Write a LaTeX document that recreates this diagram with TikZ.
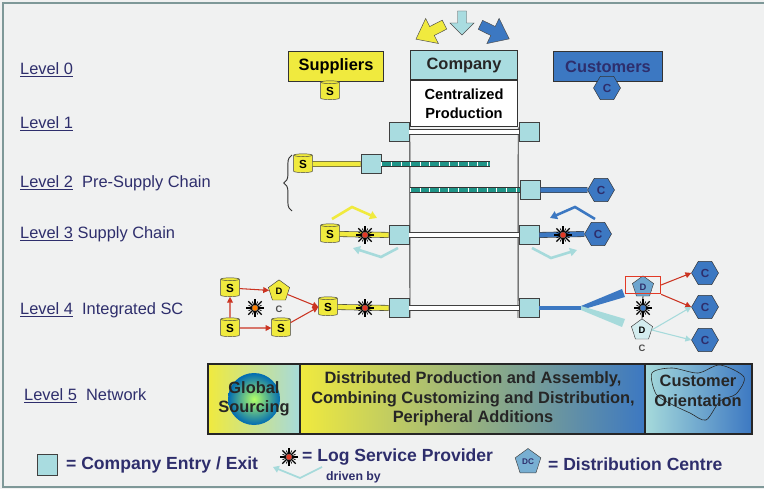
\documentclass[tikz,border=0pt]{standalone}
\usepackage{fontspec}
\setmainfont{Liberation Sans}
\usetikzlibrary{shapes.geometric,arrows.meta,decorations.pathreplacing,positioning}

\definecolor{bgcol}{HTML}{F0F1F1}
\definecolor{framecol}{HTML}{7E9898}
\definecolor{entrycol}{HTML}{A9DCE0}
\definecolor{supcol}{HTML}{F0EA3E}
\definecolor{custcol}{HTML}{3C78C2}
\definecolor{tealcol}{HTML}{1F9588}
\definecolor{navy}{HTML}{2E2E6C}
\definecolor{lightcyan}{HTML}{A6DADB}
\definecolor{lspred}{HTML}{E23A26}

\begin{document}
\begin{tikzpicture}[x=0.03cm,y=-0.03cm,
    lvl/.style={anchor=west,text=navy,font=\fontsize{14}{16}\selectfont},
    entry/.style={draw=black!75,fill=entrycol,line width=0.7pt,minimum width=17pt,minimum height=16pt,inner sep=0pt},
    scyl/.style={cylinder,shape border rotate=90,aspect=0.35,draw=black!75,fill=supcol,minimum width=16pt,minimum height=16pt,inner sep=0pt,font=\bfseries\normalsize},
    chex/.style={regular polygon,regular polygon sides=6,draw=black!80,fill=custcol,minimum size=23pt,inner sep=0pt,font=\bfseries\normalsize,text=navy},
    dpent/.style={regular polygon,regular polygon sides=5,draw=black!75,minimum size=19pt,inner sep=0pt,font=\bfseries\footnotesize},
    ybar/.style={draw=black!75,line width=0.5pt,double=supcol,double distance=4pt},
    bbar/.style={draw=black!75,line width=0.5pt,double=custcol,double distance=4pt},
    wbar/.style={draw=black!75,line width=0.6pt,double=white,double distance=4pt},
    tbar/.style={draw=black!80,line width=0.5pt,double=tealcol,double distance=4pt},
    ticks/.style={white,line width=3pt,dash pattern=on 0.7pt off 7.5pt},
    redarr/.style={lspred!90!black,line width=0.9pt,-{Triangle[length=5pt,width=5pt]}},
    cyanarr/.style={lightcyan,line width=0.9pt,-{Triangle[length=5pt,width=5pt]}},
    chev/.style={line width=2.2pt,-{Triangle[length=6pt,width=7pt]}},
    pics/lsp/.style={code={
      \foreach \a in {0,45,...,315} \draw[line width=1.1pt] (0,0) -- (\a:8pt);
      \foreach \a in {22.5,67.5,...,337.5} \draw[line width=0.6pt] (0,0) -- (\a:6pt);
      \fill[#1,draw=black!60,line width=0.3pt] (0,0) circle (2.6pt);}},
    topbox/.style={draw=black!80,line width=0.8pt,minimum height=25.5pt,inner sep=0pt,font=\bfseries\fontsize{14}{16}\selectfont},
    boxtxt/.style={font=\bfseries\fontsize{14}{16.5}\selectfont},
    legtxt/.style={anchor=west,text=navy,font=\bfseries\fontsize{15}{17}\selectfont}]

\useasboundingbox (0,0) rectangle (764,489);
\fill[bgcol] (0,0) rectangle (764,489);
\draw[framecol,line width=2.5pt] (764,3) -- (3,3) -- (3,487) -- (764,487);

% levels
\node[lvl] (l0) at (16,70) {\underline{Level 0}};
\node[lvl] (l1) at (16,124) {\underline{Level 1}};
\node[lvl] (l2) at (16,183) {\underline{Level 2}\ \ Pre-Supply Chain};
\node[lvl] (l3) at (16,234) {\underline{Level 3} Supply Chain};
\node[lvl] (l4) at (16,310) {\underline{Level 4}\ \ Integrated SC};
\node[lvl] (l5) at (20,396) {\underline{Level 5}\ \ Network};

% top arrows
\draw[black!70,fill=supcol,shift={(432,31)},rotate=207] (-14,-5) -- (0,-5) -- (0,-14) -- (18,0) -- (0,14) -- (0,5) -- (-14,5) -- cycle;
\draw[black!70,fill=custcol,shift={(493,31)},rotate=-26] (-14,-5) -- (0,-5) -- (0,-14) -- (18,0) -- (0,14) -- (0,5) -- (-14,5) -- cycle;
\draw[black!70,fill=entrycol,shift={(462,23)},rotate=-90] (-12,-4.5) -- (0,-4.5) -- (0,-12) -- (12,0) -- (0,12) -- (0,4.5) -- (-12,4.5) -- cycle;

% level 0
\node[topbox,fill=supcol,minimum width=81.6pt] (sup) at (336,66.5) {Suppliers};
\node[topbox,fill=entrycol,minimum width=91.8pt,text=black!85] (comp) at (464,65) {Company};
\node[topbox,fill=custcol,minimum width=92.6pt,text=navy] (cust) at (608,66.5) {Customers};
\node[draw=black!80,line width=0.8pt,fill=white,minimum width=91.8pt,minimum height=40pt,align=center,font=\bfseries\fontsize{12.5}{16}\selectfont] (cprod) at (464,103.5) {Centralized\\Production};
\node[scyl] (s0) at (330,91) {S};
\node[chex] (c0) at (607,88) {C};
\coordinate (colL) at (410,318);
\coordinate (colR) at (518,318);
\draw[black!80,line width=0.8pt] (cprod.south west) -- (colL);
\draw[black!80,line width=0.8pt] (cprod.south east) -- (colR);

% level 1
\node[entry] (e1l) at (399,132) {};
\node[entry] (e1r) at (529,132) {};
\draw[wbar] (e1l.east) -- (e1r.west);

% level 2
\node[scyl] (s2) at (303,164) {S};
\node[entry] (e2l) at (371,164) {};
\coordinate (t2a) at (490,164);
\draw[ybar] (s2.east) -- (e2l.west);
\draw[tbar] (e2l.east) -- (t2a);
\draw[ticks] (e2l.east) -- (t2a);
\node[entry] (e2r) at (530,190) {};
\node[chex] (c2) at (601,190) {C};
\coordinate (t2b) at (410,190);
\draw[tbar] (t2b) -- (e2r.west);
\draw[ticks] (t2b) -- (e2r.west);
\draw[bbar] (e2r.east) -- (c2.west);
\draw[decorate,decoration={brace,amplitude=7pt},line width=0.8pt,black!80] (292,211) -- (292,155);

% level 3
\node[scyl] (s3) at (330,234) {S};
\node[entry] (e3l) at (399,235) {};
\node[entry] (e3r) at (529,235) {};
\node[chex] (c3) at (598,234) {C};
\draw[ybar] (s3.east) -- (e3l.west);
\draw[wbar] (e3l.east) -- (e3r.west);
\draw[bbar] (e3r.east) -- (c3.west);
\pic at (365,235) {lsp=lspred};
\pic at (563,235) {lsp=lspred};
\draw[chev,supcol] (332,219) -- (352,207) -- (377,218);
\draw[chev,lightcyan] (398,248) -- (381,257) -- (353,248);
\draw[chev,custcol] (595,219) -- (575,207) -- (550,218);
\draw[chev,lightcyan] (532,248) -- (551,258) -- (577,250);

% level 4, left side
\node[scyl] (s4a) at (230,288) {S};
\node[scyl] (s4b) at (230,328) {S};
\node[scyl] (s4c) at (281,328) {S};
\node[dpent,fill=supcol] (d4) at (279,291) {D};
\node[font=\bfseries\footnotesize,text=black!70] (d4c) at (279,309) {C};
\pic at (255,308) {lsp=orange};
\draw[redarr] (s4a) -- (d4);
\draw[redarr] (s4b) -- (s4a);
\draw[redarr] (s4b) -- (s4c);
\node[scyl] (s4) at (328,307) {S};
\draw[redarr] (d4) -- (s4.west);
\draw[redarr] (s4c) -- (s4.west);
\node[entry] (e4l) at (399,308) {};
\node[entry] (e4r) at (529,308) {};
\draw[ybar] (s4.east) -- (e4l.west);
\draw[wbar] (e4l.east) -- (e4r.west);
\pic at (365,308) {lsp=lspred};

% level 4, right side
\coordinate (split) at (583,308);
\draw[custcol,line width=3.5pt] (e4r.east) -- (split);
\fill[custcol] (581,306) -- (622,289) -- (625,297) -- (581,310) -- cycle;
\fill[lightcyan] (581,306) -- (625,319) -- (622,327) -- (581,310) -- cycle;
\node[dpent,fill=custcol!55!entrycol,text=navy] (dc1) at (643,287) {D};
\node[dpent,fill=entrycol!50!white] (dc2) at (642,330) {D};
\draw[black!80,line width=0.8pt] (dc1.south) -- (dc2.north);
\pic at (643,308) {lsp=custcol};
\node[draw=lspred,line width=0.9pt,minimum width=30pt,minimum height=15pt,inner sep=0pt] (dcbox) at (643,285) {};
\node[font=\bfseries\footnotesize,text=black!70] (dc2c) at (642,348) {C};
\node[chex] (c4a) at (705,273) {C};
\node[chex] (c4b) at (705,307) {C};
\node[chex] (c4c) at (705,340) {C};
\draw[redarr] (dcbox.east) -- (c4a.west);
\draw[redarr] (dcbox.south east) -- (c4b.west);
\draw[cyanarr] (dc2.east) -- (c4b.west);
\draw[cyanarr] (dc2.east) -- (c4c.west);

% level 5 band
\shade[left color=supcol,right color=lightcyan] (208,364) rectangle (300,434);
\shade[left color=supcol,middle color=supcol!35!lightcyan,right color=custcol] (300,364) rectangle (645,434);
\shade[left color=lightcyan,right color=custcol] (645,364) rectangle (752,434);
\shade[inner color=yellow!50!green!60!white,outer color=blue!40!cyan!70!black] (254,399) circle (26);
\draw[black!85,line width=0.5pt] plot[smooth cycle] coordinates {(652,373) (672,368) (698,373) (720,365) (744,377) (736,394) (720,401) (706,420) (690,413) (671,404) (656,394)};
\draw[black!85,line width=1pt] (208,364) rectangle (752,434);
\draw[black!85,line width=1pt] (300,364) -- (300,434);
\draw[black!85,line width=1pt] (645,364) -- (645,434);
\node[boxtxt,align=center,text=black!85] (glob) at (254,399) {Global\\Sourcing};
\node[boxtxt,align=center,text=black!85] (distp) at (473,399) {Distributed Production and Assembly,\\Combining Customizing and Distribution,\\Peripheral Additions};
\node[boxtxt,align=center,text=black!85] (custo) at (698,391) {Customer\\Orientation};

% legend
\node[entry,minimum height=18pt] (lgbox) at (47,465) {};
\node[legtxt] (lgent) at (62,465) {= Company Entry / Exit};
\draw[lightcyan,line width=1.5pt,-{Triangle[length=5pt,width=6pt]}] (322,467) -- (300,478) -- (273,467);
\pic at (289,457) {lsp=lspred};
\node[legtxt] (lglsp) at (298,457) {= Log Service Provider};
\node[anchor=west,text=navy,font=\bfseries\fontsize{10.5}{12}\selectfont] (lgdrv) at (322,477) {driven by};
\node[dpent,minimum size=23pt,fill=custcol!45!entrycol,text=navy,font=\bfseries\scriptsize] (lgdc) at (528,462) {DC};
\node[legtxt] (lgdct) at (544,464) {= Distribution Centre};
\end{tikzpicture}
\end{document}
